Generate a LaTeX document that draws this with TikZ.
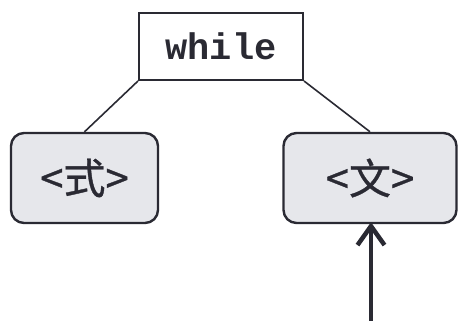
\documentclass[tikz,border=0pt]{standalone}
\usepackage{fontspec}
\setmonofont{Liberation Mono}
\newfontfamily\cjk[FakeBold=0.8]{Noto Sans CJK SC}
\usetikzlibrary{arrows.meta}
\definecolor{ink}{HTML}{2A2A33}
\definecolor{boxfill}{HTML}{E6E7EB}
\begin{document}
\begin{tikzpicture}[x=1pt,y=-1pt,
  kwbox/.style={draw=ink,line width=2pt,fill=white,minimum width=164pt,minimum height=67pt,inner sep=0pt,font=\ttfamily\bfseries\fontsize{37}{40}\selectfont,text=ink},
  ntbox/.style={draw=ink,line width=2.4pt,fill=boxfill,rounded corners=13pt,inner sep=0pt,font=\cjk\fontsize{42}{46}\selectfont,text=ink},
  edge/.style={draw=ink,line width=1.6pt},
  ptr/.style={draw=ink,line width=4.5pt,-{Straight Barb[length=19pt,width=27pt,line width=4.5pt]}}]
\useasboundingbox (0,0) rectangle (458,321);
\node[kwbox] (w) at (221,46.5) {while};
\node[ntbox,minimum width=147pt,minimum height=90pt] (l) at (84.5,178) {<式>};
\node[ntbox,minimum width=173pt,minimum height=90pt] (r) at (370,178) {<文>};
\coordinate (src) at (371,321);
\draw[edge] (w.south west) -- (l.north);
\draw[edge] (w.south east) -- (r.north);
\draw[ptr] (src) -- ([yshift=2pt]src |- r.south);
\end{tikzpicture}
\end{document}
